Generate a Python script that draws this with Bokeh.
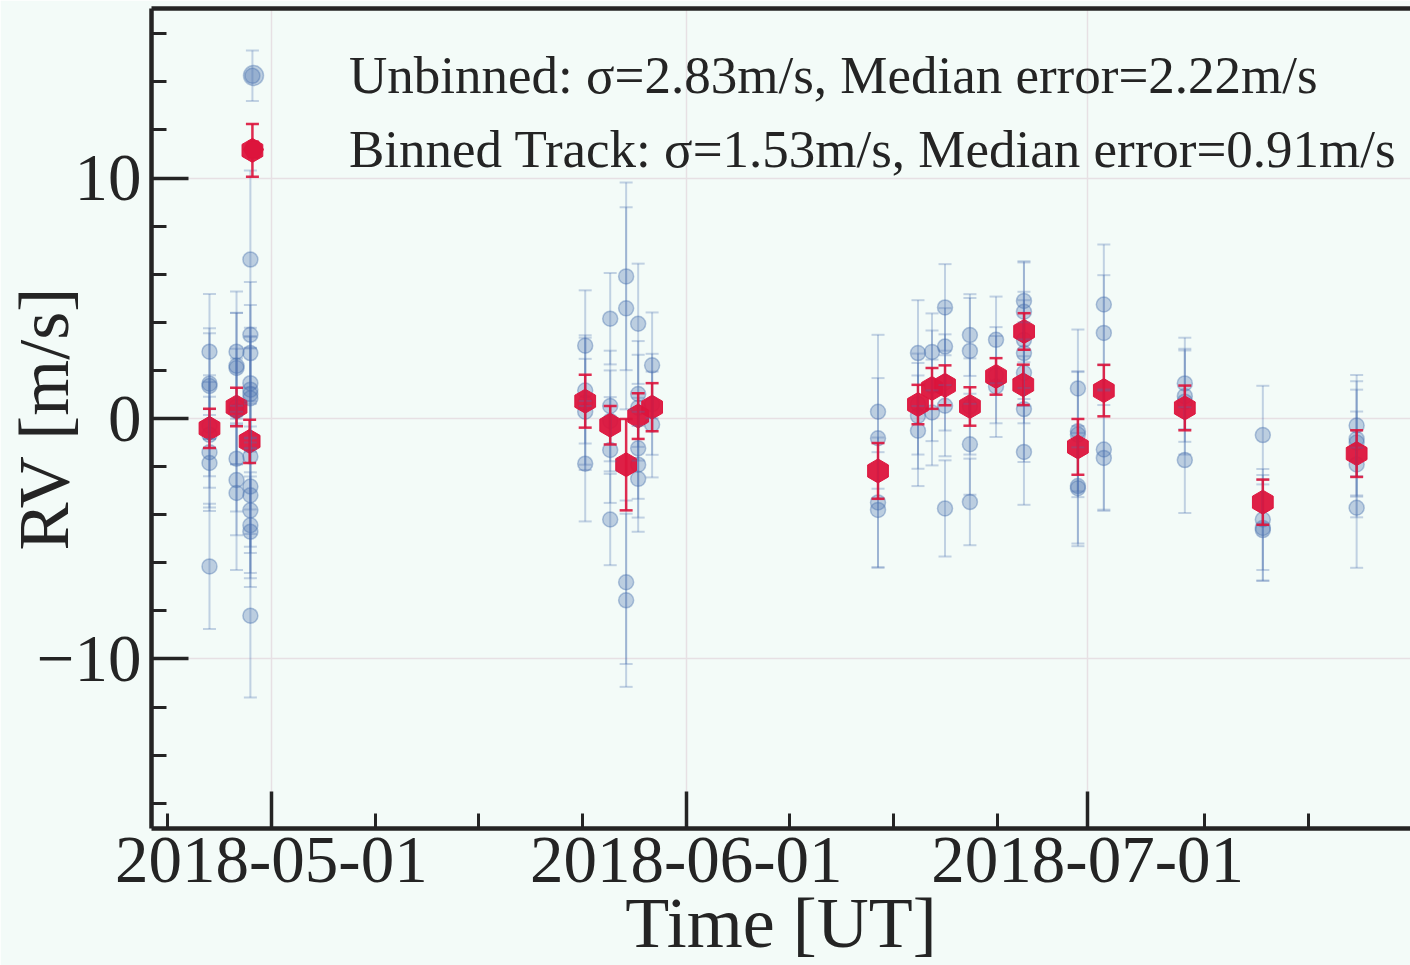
import numpy as np
import pandas as pd
from bokeh.plotting import figure
from bokeh.models import (ColumnDataSource, Whisker, TeeHead, FixedTicker, Range1d,
                          DatetimeTickFormatter, Legend, LegendItem, LinearAxis)
from bokeh.embed import file_html
from bokeh.resources import INLINE

# ---------------- data ----------------
unb_time = (["2018-04-26 09:00"] * 8 + ["2018-04-28 09:30"] * 8 + ["2018-04-29 14:00"] +
            ["2018-04-29 10:20"] * 14 + ["2018-05-24 10:50"] * 5 + ["2018-05-26 07:40"] * 5 +
            ["2018-05-27 12:15"] * 4 + ["2018-05-28 09:50"] * 6 + ["2018-05-29 10:50"] * 3 +
            ["2018-06-15 08:00"] * 4 + ["2018-06-18 07:40"] * 4 + ["2018-06-19 08:50"] * 3 +
            ["2018-06-20 08:10"] * 5 + ["2018-06-22 04:50"] * 5 + ["2018-06-24 03:40"] * 3 +
            ["2018-06-26 05:45"] * 7 + ["2018-06-30 06:30"] * 5 + ["2018-07-02 05:00"] * 4 +
            ["2018-07-08 06:15"] * 4 + ["2018-07-14 02:10"] * 4 + ["2018-07-21 02:25"] * 5)
unb_rv = [2.78, 1.45, 1.35, -0.30, -0.68, -1.40, -1.85, -6.15,
          2.78, 2.19, 2.10, 0.50, 0.30, -1.67, -2.56, -3.10,
          14.25,
          6.61, 3.48, 2.72, 1.47, 1.20, 1.02, 0.84, -1.58, -2.83, -3.19, -3.82, -4.44, -4.71, -8.20,
          3.03, 1.16, 0.66, 0.28, -1.88,
          4.15, 0.52, -0.10, -1.31, -4.20,
          5.91, 4.58, -6.81, -7.56,
          3.94, 1.02, 0.45, -1.24, -1.92, -2.51,
          2.21, 0.59, -0.25,
          0.28, -0.82, -3.49, -3.80,
          2.72, 0.60, 0.11, -0.51,
          2.77, 1.36, 0.25,
          4.62, 2.99, 1.50, 0.53, -3.74,
          3.47, 2.81, 0.50, -1.07, -3.47,
          3.27, 1.80, 1.33,
          4.89, 4.44, 3.27, 2.72, 1.90, 0.39, -1.39,
          1.25, -0.53, -0.67, -2.81, -2.90,
          4.74, 3.56, -1.29, -1.64,
          1.46, 0.93, 0.70, -1.73,
          -0.69, -4.20, -4.55, -4.64,
          -0.29, -0.85, -1.00, -1.91, -3.71]
unb_err = [2.4, 2.3, 2.2, 2.1, 2.2, 2.3, 2.0, 2.6,
           2.5, 2.2, 2.3, 2.4, 2.2, 2.2, 2.3, 3.2,
           1.05,
           3.7, 2.2, 2.0, 2.3, 2.2, 2.4, 2.1, 2.2, 2.5, 2.4, 2.6, 2.2, 2.3, 3.4,
           2.3, 2.2, 2.8, 2.2, 2.4,
           1.9, 2.3, 2.1, 2.2, 1.9,
           3.9, 4.2, 3.4, 3.6,
           2.5, 2.2, 2.2, 2.1, 2.2, 2.2,
           2.2, 2.1, 2.2,
           3.2, 2.5, 2.7, 2.4,
           2.2, 2.1, 2.2, 2.3,
           1.6, 2.3, 2.2,
           1.8, 1.6, 2.0, 2.1, 2.0,
           1.7, 2.2, 2.0, 2.1, 1.8,
           1.8, 2.0, 2.1,
           1.6, 2.1, 2.0, 2.2, 2.1, 2.2, 2.2,
           2.45, 2.5, 2.6, 2.5, 2.3,
           2.5, 2.4, 2.5, 2.2,
           1.9, 1.9, 2.2, 2.2,
           2.05, 2.1, 2.2, 2.1,
           2.1, 2.4, 2.2, 2.2, 2.5]

bin_time = ["2018-04-26 09:00", "2018-04-28 09:30", "2018-04-29 14:00", "2018-04-29 09:00",
            "2018-05-24 10:50", "2018-05-26 07:40", "2018-05-27 12:15", "2018-05-28 09:50",
            "2018-05-29 10:50", "2018-06-15 08:00", "2018-06-18 07:40", "2018-06-19 08:50",
            "2018-06-20 08:10", "2018-06-22 04:50", "2018-06-24 03:40", "2018-06-26 06:00",
            "2018-06-26 04:30", "2018-06-30 06:30", "2018-07-02 05:00", "2018-07-08 06:15",
            "2018-07-14 02:10", "2018-07-21 02:25"]
bin_rv = [-0.41, 0.48, 11.15, -0.95, 0.72, -0.28, -1.92, 0.10, 0.47, -2.18, 0.58,
          1.25, 1.38, 0.50, 1.75, 3.62, 1.40, -1.18, 1.16, 0.44, -3.48, -1.46]
bin_err = [0.82, 0.80, 1.10, 0.90, 1.10, 0.80, 1.90, 0.95, 1.00, 1.16, 0.82,
           0.85, 0.83, 0.80, 0.76, 0.76, 0.84, 1.16, 1.07, 0.93, 0.94, 0.97]

x_major = ["2018-05-01", "2018-06-01", "2018-07-01"]
y_major = [-10, 0, 10]
y_labels = ["\u221210", "0", "10"]

label_unb = "Unbinned: \u03c3=2.83m/s, Median error=2.22m/s"
label_bin = "Binned Track: \u03c3=1.53m/s, Median error=0.91m/s"

# ---------------- styles ----------------
BG = "#f3fbf8"
GRID = "#e7e0e4"
INK = "#242424"
BLUE = "#4c72b0"
RED = "#dc143c"
FONT = "Liberation Serif"


def ms(s):
    return pd.Timestamp(s).value / 1e6


u = np.array(unb_rv)
ue = np.array(unb_err)
src_u = ColumnDataSource(dict(t=pd.to_datetime(unb_time), rv=u, lo=u - ue, hi=u + ue))
b = np.array(bin_rv)
be = np.array(bin_err)
src_b = ColumnDataSource(dict(t=pd.to_datetime(bin_time), rv=b, lo=b - be, hi=b + be))

p = figure(width=1410, height=965, x_axis_type="datetime", output_backend="svg",
           toolbar_location=None,
           x_range=Range1d(ms("2018-04-22 01:00"), ms("2018-07-25 03:00")),
           y_range=Range1d(-17.05, 17.05),
           min_border_left=150, min_border_right=0, min_border_top=8, min_border_bottom=0)
p.background_fill_color = BG
p.border_fill_color = BG
p.outline_line_color = None

# ticks
majors = [ms(d) for d in x_major]
step = (majors[1] - majors[0]) / 4.0
minors = [majors[0] + k * step for k in range(-1, 12)]
minors = [m for m in minors if min(abs(m - M) for M in majors) > 1.5 * 86400000]
p.xaxis.ticker = FixedTicker(ticks=majors, minor_ticks=minors)
p.xaxis.formatter = DatetimeTickFormatter(
    microseconds="%Y-%m-%d", milliseconds="%Y-%m-%d", seconds="%Y-%m-%d",
    minsec="%Y-%m-%d", minutes="%Y-%m-%d", hourmin="%Y-%m-%d", hours="%Y-%m-%d",
    days="%Y-%m-%d", months="%Y-%m-%d", years="%Y-%m-%d")
p.yaxis.ticker = FixedTicker(ticks=y_major, minor_ticks=list(range(-16, 17, 2)))
p.yaxis.major_label_overrides = {v: s for v, s in zip(y_major, y_labels)}

for ax in (p.xaxis[0], p.yaxis[0]):
    ax.axis_line_width = 4.5
    ax.axis_line_color = INK
    ax.major_tick_in = 37
    ax.major_tick_out = 0
    ax.minor_tick_in = 15
    ax.minor_tick_out = 0
    ax.major_tick_line_width = 3.5
    ax.minor_tick_line_width = 3
    ax.major_tick_line_color = INK
    ax.minor_tick_line_color = INK
    ax.major_label_text_font = FONT
    ax.major_label_text_font_size = "67px"
    ax.major_label_text_color = INK
    ax.axis_label_text_font = FONT
    ax.axis_label_text_font_size = "72px"
    ax.axis_label_text_font_style = "normal"
    ax.axis_label_text_color = INK

p.xaxis.axis_label = "Time [UT]"
p.yaxis.axis_label = "RV [m/s]"
p.xaxis.major_label_standoff = 9
p.xaxis.axis_label_standoff = -2
p.yaxis.major_label_standoff = 10
p.yaxis.axis_label_standoff = -50

top = LinearAxis(ticker=FixedTicker(ticks=[]), axis_line_width=4.5, axis_line_color=INK,
                 major_tick_in=0, major_tick_out=0, minor_tick_in=0, minor_tick_out=0,
                 major_label_text_font_size="0px")
p.add_layout(top, "above")

p.xgrid.grid_line_color = GRID
p.ygrid.grid_line_color = GRID
p.xgrid.grid_line_width = 1.5
p.ygrid.grid_line_width = 1.5

# unbinned
w_u = Whisker(source=src_u, base="t", lower="lo", upper="hi", dimension="height",
              line_color=BLUE, line_alpha=0.3, line_width=2, level="glyph",
              upper_head=TeeHead(size=13, line_color=BLUE, line_alpha=0.3, line_width=2),
              lower_head=TeeHead(size=13, line_color=BLUE, line_alpha=0.3, line_width=2))
p.add_layout(w_u)
r_u = p.scatter("t", "rv", source=src_u, marker="circle", size=15,
                fill_color=BLUE, fill_alpha=0.33, line_color=BLUE, line_alpha=0.4, line_width=1.5)

# binned
w_b = Whisker(source=src_b, base="t", lower="lo", upper="hi", dimension="height",
              line_color=RED, line_alpha=0.9, line_width=2.5, level="glyph",
              upper_head=TeeHead(size=13, line_color=RED, line_alpha=0.9, line_width=2.5),
              lower_head=TeeHead(size=13, line_color=RED, line_alpha=0.9, line_width=2.5))
p.add_layout(w_b)
r_b = p.scatter("t", "rv", source=src_b, marker="hex", size=24, angle=np.pi / 2,
                fill_color=RED, fill_alpha=0.95, line_color=RED, line_alpha=0.95)

legend = Legend(items=[LegendItem(label=label_unb, renderers=[r_u]),
                       LegendItem(label=label_bin, renderers=[r_b])],
                location=(72, 649), background_fill_alpha=0, border_line_alpha=0,
                label_text_font=FONT, label_text_font_size="53px", label_text_color=INK,
                glyph_width=60, glyph_height=50, label_standoff=66, spacing=14,
                padding=0, margin=0)
p.add_layout(legend)

open("out.html", "w").write(file_html(p, INLINE))
